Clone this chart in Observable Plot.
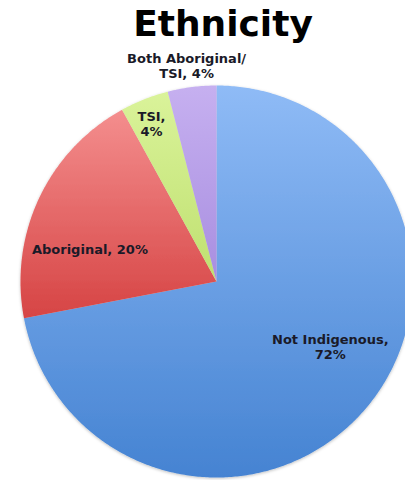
<!DOCTYPE html>
<html><head><meta charset="utf-8">
<script src="https://cdn.jsdelivr.net/npm/d3@7"></script>
<script src="https://cdn.jsdelivr.net/npm/@observablehq/plot@0.6"></script>
<style>body{margin:0;background:#fff;font-family:"DejaVu Sans",sans-serif;}</style>
</head><body><div id="chart"></div>
<script>
// ---- data ----
const title = "Ethnicity";
const categories = ["Not Indigenous", "Aboriginal", "TSI", "Both Aboriginal/TSI"];
const values = [72, 20, 4, 4];
const labelNames = ["Not Indigenous,\n", "Aboriginal, ", "TSI,\n", "Both Aboriginal/\nTSI, "];

// ---- style / layout config ----
const gradTop = ["#8fbbf6", "#f48e8e", "#daf39a", "#c6b0f0"];
const gradBottom = ["#4583d2", "#d64444", "#bfe070", "#a88ee0"];
const labelRadius = [0.67, 0.666, 0.87, 1.11];
const labelAngleShift = [-9.7, -11, -0.8, -0.7];
const R = 196, cx = 216, cy = 281, W = 405, H = 480;

const rows = categories.map((c, i) => ({key: c, value: values[i], i}));
const arcs = d3.pie().sort(null).value(d => d.value)(rows);

const slicePts = [];
const labelRows = [];
arcs.forEach(p => {
  const key = p.data.key;
  slicePts.push({key, x: 0, y: 0});
  const n = Math.max(4, Math.ceil((p.endAngle - p.startAngle) / 0.01));
  for (let k = 0; k <= n; k++) {
    const a = p.startAngle + (p.endAngle - p.startAngle) * k / n;
    slicePts.push({key, x: Math.sin(a), y: Math.cos(a)});
  }
  const i = p.data.i;
  const mid = (p.startAngle + p.endAngle) / 2 + labelAngleShift[i] * Math.PI / 180;
  labelRows.push({
    x: labelRadius[i] * Math.sin(mid),
    y: labelRadius[i] * Math.cos(mid),
    text: labelNames[i] + p.data.value + "%"
  });
});

const gradIds = categories.map((c, i) => "grad" + i);

const svg = Plot.plot({
  width: W, height: H,
  margin: 0,
  style: {background: "#fff", fontFamily: "DejaVu Sans, sans-serif"},
  x: {domain: [-cx / R, (W - cx) / R], range: [0, W], axis: null},
  y: {domain: [-(H - cy) / R, cy / R], range: [H, 0], axis: null},
  color: {domain: categories, range: gradIds.map(id => `url(#${id})`)},
  marks: [
    Plot.line(slicePts, {x: "x", y: "y", z: "key", fill: "key", stroke: null, curve: "linear-closed"}),
    Plot.text(labelRows, {x: "x", y: "y", text: "text", fontSize: 13, fontWeight: "bold",
      lineHeight: 1.15, fill: "#1a1a28", textAnchor: "middle"}),
    Plot.text([title], {frameAnchor: "top", dx: 20, dy: 35, lineAnchor: "bottom",
      fontSize: 36, fontWeight: "bold", fill: "#000"})
  ]
});

const defs = d3.select(svg).insert("defs", ":first-child");
gradIds.forEach((id, i) => {
  const g = defs.append("linearGradient").attr("id", id)
    .attr("x1", 0).attr("y1", 0).attr("x2", 0).attr("y2", 1);
  g.append("stop").attr("offset", "0%").attr("stop-color", gradTop[i]);
  g.append("stop").attr("offset", "100%").attr("stop-color", gradBottom[i]);
});
const f = defs.append("filter").attr("id", "pieShadow")
  .attr("x", "-10%").attr("y", "-10%").attr("width", "120%").attr("height", "120%");
f.append("feDropShadow").attr("dx", 0).attr("dy", 1).attr("stdDeviation", 1.5)
  .attr("flood-color", "#000").attr("flood-opacity", 0.25);
d3.select(svg).select('g[aria-label="line"]').attr("filter", "url(#pieShadow)");

document.getElementById("chart").appendChild(svg);
</script>
</body></html>
